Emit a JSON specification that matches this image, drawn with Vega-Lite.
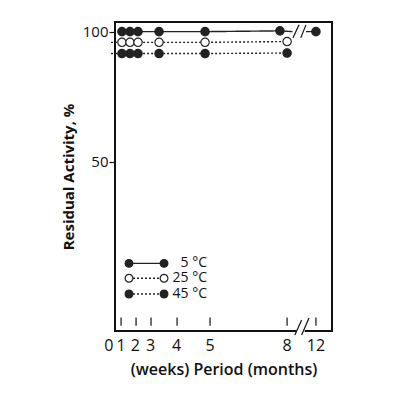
{
  "$schema": "https://vega.github.io/schema/vega-lite/v6.json",
  "width": 217,
  "height": 309,
  "autosize": "none",
  "padding": {"left": 115, "top": 22, "right": 68, "bottom": 69},
  "config": {
    "view": {"stroke": "#111", "strokeWidth": 2},
    "font": "Open Sans",
    "text": {"font": "Open Sans"}
  },
  "datasets": {
    "series": [
      {"temp": "5 °C", "seg": "a", "marker": true, "pos": 3.2, "act": 100},
      {"temp": "5 °C", "seg": "a", "marker": true, "pos": 6.9, "act": 100},
      {"temp": "5 °C", "seg": "a", "marker": true, "pos": 10.6, "act": 100},
      {"temp": "5 °C", "seg": "a", "marker": true, "pos": 20.3, "act": 100},
      {"temp": "5 °C", "seg": "a", "marker": true, "pos": 41.5, "act": 100},
      {"temp": "5 °C", "seg": "a", "marker": true, "pos": 76, "act": 100.3},
      {"temp": "5 °C", "seg": "a", "marker": false, "pos": 81.8, "act": 100},
      {"temp": "5 °C", "seg": "b", "marker": false, "pos": 88, "act": 100},
      {"temp": "5 °C", "seg": "b", "marker": true, "pos": 92.6, "act": 100},
      {"temp": "25 °C", "seg": "c", "marker": false, "pos": -1.8, "act": 95.9},
      {"temp": "25 °C", "seg": "c", "marker": true, "pos": 3.2, "act": 95.9},
      {"temp": "25 °C", "seg": "c", "marker": true, "pos": 6.9, "act": 95.9},
      {"temp": "25 °C", "seg": "c", "marker": true, "pos": 10.6, "act": 95.9},
      {"temp": "25 °C", "seg": "c", "marker": true, "pos": 20.3, "act": 95.9},
      {"temp": "25 °C", "seg": "c", "marker": true, "pos": 41.5, "act": 95.9},
      {"temp": "25 °C", "seg": "c", "marker": true, "pos": 79.3, "act": 96.2},
      {"temp": "45 °C", "seg": "d", "marker": false, "pos": -1.8, "act": 91.6},
      {"temp": "45 °C", "seg": "d", "marker": true, "pos": 3.2, "act": 91.6},
      {"temp": "45 °C", "seg": "d", "marker": true, "pos": 6.9, "act": 91.6},
      {"temp": "45 °C", "seg": "d", "marker": true, "pos": 10.6, "act": 91.6},
      {"temp": "45 °C", "seg": "d", "marker": true, "pos": 20.3, "act": 91.6},
      {"temp": "45 °C", "seg": "d", "marker": true, "pos": 41.5, "act": 91.6},
      {"temp": "45 °C", "seg": "d", "marker": true, "pos": 79.3, "act": 91.8}
    ],
    "legend": [
      {"temp": "5 °C", "pos": 6.45, "act": 11.1},
      {"temp": "5 °C", "pos": 22.6, "act": 11.1},
      {"temp": "25 °C", "pos": 6.45, "act": 5.4},
      {"temp": "25 °C", "pos": 22.6, "act": 5.4},
      {"temp": "45 °C", "pos": 6.45, "act": -0.65},
      {"temp": "45 °C", "pos": 22.6, "act": -0.65}
    ],
    "legendText": [
      {"temp": "5 °C", "pos": 42.4, "act": 11.1},
      {"temp": "25 °C", "pos": 42.4, "act": 5.4},
      {"temp": "45 °C", "pos": 42.4, "act": -0.65}
    ],
    "ticks": [
      {"label": "1", "pos": 2.8, "act": -9.7, "act2": -12.8},
      {"label": "2", "pos": 9.7, "act": -9.7, "act2": -12.8},
      {"label": "3", "pos": 16.6, "act": -9.7, "act2": -12.8},
      {"label": "4", "pos": 28.6, "act": -9.7, "act2": -12.8},
      {"label": "5", "pos": 43.8, "act": -9.7, "act2": -12.8},
      {"label": "8", "pos": 79.3, "act": -9.7, "act2": -12.8},
      {"label": "12", "pos": 92.6, "act": -9.7, "act2": -12.8}
    ],
    "tickLabels": [
      {"label": "0", "pos": -2.8, "act": -20.6},
      {"label": "1", "pos": 2.8, "act": -20.6},
      {"label": "2", "pos": 9.4, "act": -20.6},
      {"label": "3", "pos": 16.4, "act": -20.6},
      {"label": "4", "pos": 28.4, "act": -20.6},
      {"label": "5", "pos": 43.8, "act": -20.6},
      {"label": "8", "pos": 79.3, "act": -20.6},
      {"label": "12", "pos": 92.6, "act": -20.6}
    ],
    "gap": [
      {"pos": 83.6, "pos2": 87.4, "act": -14.85}
    ],
    "breaks": [
      {"pos": 82, "act": 97.6, "pos2": 84.8, "act2": 102.6},
      {"pos": 85.6, "act": 97.6, "pos2": 88, "act2": 102.6},
      {"pos": 82.9, "act": -16.4, "pos2": 86, "act2": -10.6},
      {"pos": 86, "act": -16.4, "pos2": 89.4, "act2": -9.9}
    ]
  },
  "encoding": {
    "x": {
      "field": "pos",
      "type": "quantitative",
      "scale": {"domain": [0, 100], "nice": false, "zero": false},
      "axis": {
        "labels": false,
        "ticks": false,
        "domain": false,
        "grid": false,
        "title": "(weeks) Period (months)",
        "titleFontSize": 16,
        "titleFontWeight": 600,
        "titleColor": "#111",
        "titlePadding": 30
      }
    },
    "y": {
      "field": "act",
      "type": "quantitative",
      "scale": {"domain": [-14.85, 103.7], "nice": false, "zero": false},
      "axis": {
        "values": [50, 100],
        "domain": false,
        "grid": false,
        "tickSize": 6,
        "tickColor": "#111",
        "tickWidth": 1.2,
        "labelFontSize": 15,
        "labelColor": "#111",
        "labelPadding": 1,
        "title": "Residual Activity, %",
        "titleFontSize": 15,
        "titleFontWeight": "bold",
        "titleColor": "#111",
        "titlePadding": 6
      }
    }
  },
  "layer": [
    {
      "data": {"name": "gap"},
      "mark": {"type": "rule", "color": "white", "strokeWidth": 3},
      "encoding": {"x2": {"field": "pos2"}}
    },
    {
      "data": {"name": "series"},
      "mark": {"type": "line", "color": "#222", "strokeWidth": 1.4},
      "encoding": {
        "detail": {"field": "seg"},
        "strokeDash": {
          "field": "temp",
          "type": "nominal",
          "scale": {"domain": ["5 °C", "25 °C", "45 °C"], "range": [[1, 0], [2, 2], [2, 2]]},
          "legend": null
        }
      }
    },
    {
      "data": {"name": "series"},
      "transform": [{"filter": "datum.marker"}],
      "mark": {"type": "point", "shape": "circle", "size": 70, "stroke": "#222", "strokeWidth": 1.2, "fillOpacity": 1, "opacity": 1},
      "encoding": {
        "fill": {
          "field": "temp",
          "type": "nominal",
          "scale": {"domain": ["5 °C", "25 °C", "45 °C"], "range": ["#222", "#fff", "#222"]},
          "legend": null
        }
      }
    },
    {
      "data": {"name": "legend"},
      "mark": {"type": "line", "color": "#222", "strokeWidth": 1.4},
      "encoding": {
        "detail": {"field": "temp"},
        "strokeDash": {
          "field": "temp",
          "type": "nominal",
          "scale": {"domain": ["5 °C", "25 °C", "45 °C"], "range": [[1, 0], [2, 2], [2, 2]]},
          "legend": null
        }
      }
    },
    {
      "data": {"name": "legend"},
      "mark": {"type": "point", "shape": "circle", "size": 60, "stroke": "#222", "strokeWidth": 1.2, "fillOpacity": 1, "opacity": 1},
      "encoding": {
        "fill": {
          "field": "temp",
          "type": "nominal",
          "scale": {"domain": ["5 °C", "25 °C", "45 °C"], "range": ["#222", "#fff", "#222"]},
          "legend": null
        }
      }
    },
    {
      "data": {"name": "legendText"},
      "mark": {"type": "text", "align": "right", "baseline": "middle", "fontSize": 14, "color": "#111"},
      "encoding": {"text": {"field": "temp"}}
    },
    {
      "data": {"name": "ticks"},
      "mark": {"type": "rule", "color": "#111", "strokeWidth": 1.2},
      "encoding": {"y2": {"field": "act2"}}
    },
    {
      "data": {"name": "tickLabels"},
      "mark": {"type": "text", "align": "center", "baseline": "middle", "fontSize": 16, "color": "#111"},
      "encoding": {"text": {"field": "label"}}
    },
    {
      "data": {"name": "breaks"},
      "mark": {"type": "rule", "color": "#111", "strokeWidth": 1.2},
      "encoding": {"x2": {"field": "pos2"}, "y2": {"field": "act2"}}
    }
  ]
}
